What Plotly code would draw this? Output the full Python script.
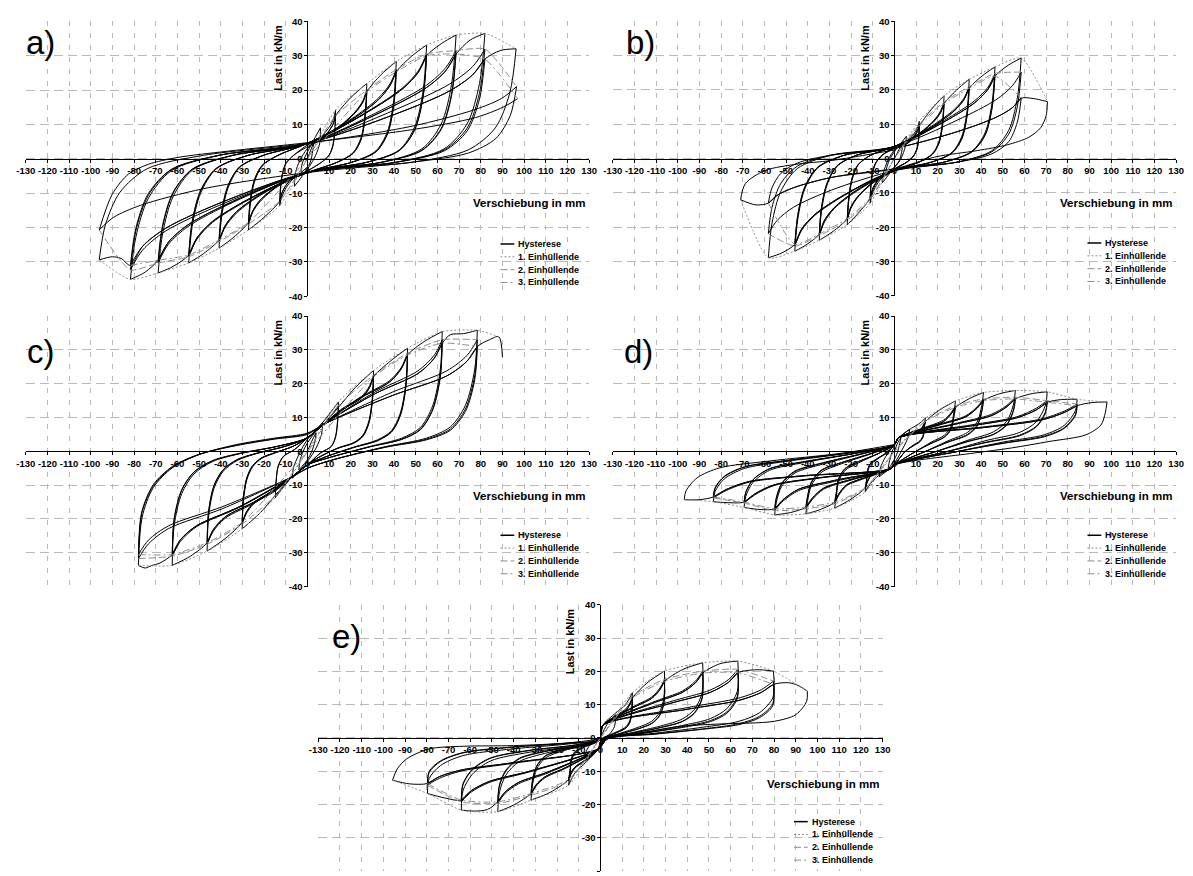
import plotly.graph_objects as go

# ---------------------------------------------------------------------------
# Test data: load (kN/m) versus displacement (mm) of five wall specimens.
# Each hysteresis list holds the half-cycles in test order; every half-cycle
# lists its (displacement, load) points and ends at the reversal peak.
# ---------------------------------------------------------------------------

X_TICKS = list(range(-130, 131, 10))
X_TICK_LABELS = [str(v) for v in X_TICKS]
Y_TICKS = list(range(-40, 41, 10))
Y_TICK_LABELS = [str(v) for v in Y_TICKS]

LEGEND_LABELS = ["Hysterese", "1. Einhüllende", "2. Einhüllende", "3. Einhüllende"]
PANEL_LABELS = ["a)", "b)", "c)", "d)", "e)"]
X_TITLE = "Verschiebung in mm"
Y_TITLE = "Last in kN/m"

# ----------------------------- specimen a ---------------------------------
A_HYST = [
    [(1.5, 2.5), (3, 5)],
    [(2.5, 2.5), (1, -1.5), (-3, -4)],
    [(-2.5, -1.5), (0, 2), (6, 9)],
    [(5.5, 4), (3, 0), (0, -3), (-6, -8)],
    [(-5.5, -4), (-3.5, -0.5), (0, 3), (6.5, 6.5), (10.4, 9.5), (12.1, 11.8), (13, 14.2)],
    [(12.6, 8.5), (11.7, 4), (10, 1.1), (6.5, -1), (0, -3.5), (-6.4, -5.7), (-10.2, -8.8), (-11.9, -11.2), (-12.8, -13.6)],
    [(-12.4, -8.8), (-11.5, -4.5), (-9.9, -1.4), (-6.4, 1), (0, 3.5), (6.5, 5.6), (10.4, 8.5), (12.1, 10.5), (13, 12.5)],
    [(12.6, 7.5), (11.7, 3.5), (10, 1), (6.5, -1), (0, -3.5), (-6.4, -5.2), (-10.2, -8), (-11.9, -10.1), (-12.8, -12.3)],
    [(-12.4, -8), (-11.5, -4.1), (-9.9, -1.2), (-6.4, 1), (0, 4), (6.5, 5.6), (10.4, 8.5), (12.1, 10.5), (13, 12.5), (20, 17.8), (27.4, 21.9)],
    [(26.6, 13.1), (24.7, 6.1), (21.1, 1.8), (13.7, -1), (0, -4), (-6.4, -5.2), (-10.2, -8), (-11.9, -10.1), (-12.8, -12.3), (-20, -17), (-27.2, -20.7)],
    [(-26.4, -13.5), (-24.5, -6.8), (-20.9, -2.1), (-13.6, 1), (0, 4.5), (13.7, 9), (21.9, 13.6), (25.5, 16.8), (27.4, 20)],
    [(26.6, 12), (24.7, 5.6), (21.1, 1.6), (13.7, -1), (0, -4), (-13.6, -8), (-21.8, -12.4), (-25.3, -15.6), (-27.2, -19)],
    [(-26.4, -12.4), (-24.5, -6.3), (-20.9, -1.9), (-13.6, 1), (0, 4.5), (13.7, 8.8), (21.9, 13.3), (25.5, 16.4), (27.4, 19.5)],
    [(26.6, 11.7), (24.7, 5.5), (21.1, 1.6), (13.7, -1), (0, -4), (-13.6, -7.8), (-21.8, -12), (-25.3, -15.2), (-27.2, -18.5)],
    [(-26.4, -12), (-24.5, -6.1), (-20.9, -1.9), (-13.6, 1), (0, 4.5), (13.7, 8.8), (21.9, 13.3), (25.5, 16.4), (27.4, 19.5), (34, 24.5), (41, 28.3)],
    [(39.8, 17), (36.9, 7.9), (31.6, 2.3), (20.5, -1), (0, -4), (-13.6, -7.8), (-21.8, -12), (-25.3, -15.2), (-27.2, -18.5), (-34, -22.8), (-40.8, -26)],
    [(-39.6, -16.9), (-36.7, -8.6), (-31.4, -2.6), (-20.4, 1), (0, 4.5), (20.5, 11.7), (32.8, 17.7), (38.1, 21.8), (41, 26)],
    [(39.8, 15.6), (36.9, 7.3), (31.6, 2.1), (20.5, -1), (0, -4), (-20.4, -10.1), (-32.6, -15.7), (-37.9, -19.8), (-40.8, -24.1)],
    [(-39.6, -15.7), (-36.7, -8), (-31.4, -2.4), (-20.4, 1), (0, 4.5), (20.5, 11.4), (32.8, 17.2), (38.1, 21.3), (41, 25.3)],
    [(39.8, 15.2), (36.9, 7.1), (31.6, 2), (20.5, -1), (0, -4), (-20.4, -9.9), (-32.6, -15.3), (-37.9, -19.4), (-40.8, -23.6)],
    [(-39.6, -15.3), (-36.7, -7.8), (-31.4, -2.4), (-20.4, 1), (0, 4.5), (20.5, 11.4), (32.8, 17.2), (38.1, 21.3), (41, 25.3), (48, 29.8), (55, 33.1)],
    [(53.4, 19.9), (49.5, 9.3), (42.4, 2.6), (27.5, -1), (0, -4), (-20.4, -9.9), (-32.6, -15.3), (-37.9, -19.4), (-40.8, -23.6), (-48, -27.6), (-54.8, -30.3)],
    [(-53.2, -19.7), (-49.3, -10), (-42.2, -3), (-27.4, 1), (0, 4.5), (27.5, 13.7), (44, 20.7), (51.2, 25.6), (55, 30.5)],
    [(53.4, 18.3), (49.5, 8.5), (42.4, 2.4), (27.5, -1), (0, -4), (-27.4, -12), (-43.8, -18.5), (-51, -23.4), (-54.8, -28.5)],
    [(-53.2, -18.5), (-49.3, -9.4), (-42.2, -2.9), (-27.4, 1), (0, 4.5), (27.5, 13.5), (44, 20.4), (51.2, 25.2), (55, 30)],
    [(53.4, 18), (49.5, 8.4), (42.4, 2.4), (27.5, -1), (0, -4), (-27.4, -11.8), (-43.8, -18.2), (-51, -23), (-54.8, -28)],
    [(-53.2, -18.2), (-49.3, -9.2), (-42.2, -2.8), (-27.4, 1), (0, 4.5), (27.5, 13.5), (44, 20.4), (51.2, 25.2), (55, 30), (62, 33.6), (68.6, 36)],
    [(66.5, 21.6), (61.7, 10.1), (52.8, 2.9), (34.3, -1), (0, -4), (-27.4, -11.8), (-43.8, -18.2), (-51, -23), (-54.8, -28), (-62, -31.3), (-68.9, -33.2)],
    [(-66.8, -21.6), (-62, -11), (-53.1, -3.3), (-34.5, 1), (0, 4.5), (34.3, 14.2), (54.9, 21.4), (63.8, 26.5), (68.6, 31.5)],
    [(66.5, 18.9), (61.7, 8.8), (52.8, 2.5), (34.3, -1), (0, -4), (-34.5, -12.7), (-55.1, -19.7), (-64.1, -24.8), (-68.9, -30.3)],
    [(-66.8, -19.7), (-62, -10), (-53.1, -3), (-34.5, 1), (0, 4.5), (34.3, 13.7), (54.9, 20.7), (63.8, 25.6), (68.6, 30.5)],
    [(66.5, 18.3), (61.7, 8.5), (52.8, 2.4), (34.3, -1), (0, -4), (-34.5, -12.4), (-55.1, -19.2), (-64.1, -24.2), (-68.9, -29.5)],
    [(-66.8, -19.2), (-62, -9.7), (-53.1, -3), (-34.5, 1), (0, 4.5), (34.3, 13.7), (54.9, 20.7), (63.8, 25.6), (68.6, 30.5), (75, 34.5), (81.9, 36.5)],
    [(79.4, 21.9), (73.7, 10.2), (63.1, 2.9), (41, -1), (0, -4), (-34.5, -12.4), (-55.1, -19.2), (-64.1, -24.2), (-68.9, -29.5), (-75, -33), (-81.7, -35.1)],
    [(-79.2, -22.8), (-73.5, -11.6), (-62.9, -3.5), (-40.9, 1), (0, 4.5), (41, 14.4), (65.5, 21.7), (76.2, 26.8), (81.9, 31.9)],
    [(79.4, 19.1), (73.7, 8.9), (63.1, 2.6), (41, -1), (0, -4), (-40.9, -13.6), (-65.4, -21), (-76, -26.5), (-81.7, -32.3)],
    [(-79.2, -21), (-73.5, -10.7), (-62.9, -3.2), (-40.9, 1), (0, 4.5), (41, 13.1), (65.5, 19.7), (76.2, 24.4), (81.9, 29)],
    [(79.4, 17.4), (73.7, 8.1), (63.1, 2.3), (41, -1), (0, -4), (-40.9, -13), (-65.4, -20.2), (-76, -25.4), (-81.7, -31)],
    [(-79.2, -20.2), (-73.5, -10.2), (-62.9, -3.1), (-40.9, 1), (0, 4.5), (41, 13.1), (65.5, 19.7), (76.2, 24.4), (81.9, 29), (89, 31.5), (96.3, 32)],
    [(93.4, 19.2), (86.7, 9), (74.2, 2.6), (48.2, -1), (0, -4), (-40.9, -13), (-65.4, -20.2), (-76, -25.4), (-81.7, -31), (-86, -29), (-90, -28.5), (-96.1, -29.4)],
    [(-93.2, -19.1), (-86.5, -9.7), (-74, -2.9), (-48, 1), (0, 4.5), (48.3, 9.5), (77.2, 14.3), (89.7, 17.6), (96.5, 21)],
    [(93.6, 12.6), (86.9, 5.9), (74.3, 1.7), (48.3, -1), (0, -4), (-48, -8.7), (-76.9, -13.5), (-89.4, -17), (-96.1, -20.7)],
    [(-90, -10.2), (-82.5, -4.4), (-73.4, -1.6), (-59.8, 0.4), (-37, 2.2), (0, 4.7), (48.5, 8.5), (77.6, 12), (90.2, 15), (97, 17.5)],
]
A_ENV1 = [(-96.1, -29.4), (-81.7, -35.1), (-68.9, -33.2), (-54.8, -30.3), (-40.8, -26), (-27.2, -20.7),
          (-12.8, -13.6), (0, 0), (13, 14.2), (27.4, 21.9), (41, 28.3), (55, 33.1), (68.6, 36),
          (81.9, 36.5), (96.3, 32)]
A_ENV2 = [(-96.1, -20.7), (-81.7, -32.3), (-68.9, -30.3), (-54.8, -28.5), (-40.8, -24.1), (-27.2, -19),
          (-12.8, -12.3), (0, 0), (13, 12.5), (27.4, 20), (41, 26), (55, 30.5), (68.6, 31.5),
          (81.9, 31.9), (96.5, 21)]
A_ENV3 = [(-81.7, -31), (-68.9, -29.5), (-54.8, -28), (-40.8, -23.6), (-27.2, -18.5), (0, 0),
          (27.4, 19.5), (41, 25.3), (55, 30), (68.6, 30.5), (81.9, 29), (97, 17.5)]

# ----------------------------- specimen b ---------------------------------
B_HYST = [
    [(2, 2.5), (4, 5)],
    [(3.5, 2.5), (2, -1), (0, -2.5), (-4, -5)],
    [(-3.5, -2.5), (-2, 0), (0, 2), (5.5, 6.5)],
    [(5, 3.5), (3, 0), (0, -2.5), (-5.5, -7)],
    [(-5, -4), (-3, -0.5), (0, 2.5), (5.75, 4.9), (9.2, 7.4), (10.7, 9.2), (11.5, 10.9)],
    [(11.2, 6.5), (10.4, 3.1), (8.9, 0.9), (5.8, -1), (0, -3), (-5.6, -5.5), (-9, -8.5), (-10.4, -10.7), (-11.2, -13)],
    [(-10.9, -8.5), (-10.1, -4.3), (-8.6, -1.3), (-5.6, 1), (0, 3), (5.75, 4.5), (9.2, 6.8), (10.7, 8.4), (11.5, 10)],
    [(11.2, 6), (10.4, 2.8), (8.9, 0.8), (5.8, -1), (0, -3), (-5.6, -5), (-9, -7.8), (-10.4, -9.8), (-11.2, -12)],
    [(-10.9, -7.8), (-10.1, -4), (-8.6, -1.2), (-5.6, 1), (0, 3), (5.75, 4.3), (9.2, 6.5), (10.7, 8), (11.5, 9.5)],
    [(11.2, 5.7), (10.4, 2.7), (8.9, 0.8), (5.8, -1), (0, -3), (-5.6, -4.8), (-9, -7.5), (-10.4, -9.4), (-11.2, -11.5)],
    [(-10.9, -7.5), (-10.1, -3.8), (-8.6, -1.2), (-5.6, 1), (0, 3.5), (5.75, 4.3), (9.2, 6.5), (10.7, 8), (11.5, 9.5), (17, 14.3), (22.9, 18.3)],
    [(22.2, 11), (20.6, 5.1), (17.6, 1.5), (11.5, -1), (0, -3.5), (-5.6, -4.8), (-9, -7.5), (-10.4, -9.4), (-11.2, -11.5), (-16.5, -15.8), (-21.8, -19.3)],
    [(-21.1, -12.5), (-19.6, -6.4), (-16.8, -1.9), (-10.9, 1), (0, 3.5), (11.5, 7.4), (18.3, 11.2), (21.3, 13.9), (22.9, 16.5)],
    [(22.2, 9.9), (20.6, 4.6), (17.6, 1.3), (11.5, -1), (0, -3.5), (-10.9, -7.6), (-17.4, -11.7), (-20.3, -14.8), (-21.8, -18)],
    [(-21.1, -11.7), (-19.6, -5.9), (-16.8, -1.8), (-10.9, 1), (0, 3.5), (11.5, 7.2), (18.3, 10.9), (21.3, 13.4), (22.9, 16)],
    [(22.2, 9.6), (20.6, 4.5), (17.6, 1.3), (11.5, -1), (0, -3.5), (-10.9, -7.4), (-17.4, -11.4), (-20.3, -14.4), (-21.8, -17.5)],
    [(-21.1, -11.4), (-19.6, -5.8), (-16.8, -1.8), (-10.9, 1), (0, 3.5), (11.5, 7.2), (18.3, 10.9), (21.3, 13.4), (22.9, 16), (28.7, 20), (34.5, 23.1)],
    [(33.5, 13.9), (31.1, 6.5), (26.6, 1.8), (17.3, -1), (0, -3.5), (-10.9, -7.4), (-17.4, -11.4), (-20.3, -14.4), (-21.8, -17.5), (-28.3, -21.2), (-34.7, -23.8)],
    [(-33.7, -15.5), (-31.2, -7.9), (-26.7, -2.4), (-17.4, 1), (0, 3.5), (17.3, 9.5), (27.6, 14.3), (32.1, 17.6), (34.5, 21)],
    [(33.5, 12.6), (31.1, 5.9), (26.6, 1.7), (17.3, -1), (0, -3.5), (-17.4, -9.5), (-27.8, -14.6), (-32.3, -18.5), (-34.7, -22.5)],
    [(-33.7, -14.6), (-31.2, -7.4), (-26.7, -2.3), (-17.4, 1), (0, 3.5), (17.3, 9.2), (27.6, 13.9), (32.1, 17.2), (34.5, 20.5)],
    [(33.5, 12.3), (31.1, 5.7), (26.6, 1.6), (17.3, -1), (0, -3.5), (-17.4, -9.2), (-27.8, -14.3), (-32.3, -18), (-34.7, -22)],
    [(-33.7, -14.3), (-31.2, -7.3), (-26.7, -2.2), (-17.4, 1), (0, 3.5), (17.3, 9.2), (27.6, 13.9), (32.1, 17.2), (34.5, 20.5), (40.5, 24.1), (46.4, 26.7)],
    [(45, 16), (41.8, 7.5), (35.7, 2.1), (23.2, -1), (0, -3.5), (-17.4, -9.2), (-27.8, -14.3), (-32.3, -18), (-34.7, -22), (-40.4, -25), (-46, -27)],
    [(-44.6, -17.6), (-41.4, -8.9), (-35.4, -2.7), (-23, 1), (0, 3.5), (23.2, 11.2), (37.1, 16.9), (43.2, 20.8), (46.4, 24.8)],
    [(45, 14.9), (41.8, 6.9), (35.7, 2), (23.2, -1), (0, -3.5), (-23, -10.7), (-36.8, -16.6), (-42.8, -20.9), (-46, -25.5)],
    [(-44.6, -16.6), (-41.4, -8.4), (-35.4, -2.6), (-23, 1), (0, 3.5), (23.2, 10.8), (37.1, 16.3), (43.2, 20.2), (46.4, 24)],
    [(45, 14.4), (41.8, 6.7), (35.7, 1.9), (23.2, -1), (0, -3.5), (-23, -10.5), (-36.8, -16.3), (-42.8, -20.5), (-46, -25)],
    [(-44.6, -16.3), (-41.4, -8.3), (-35.4, -2.5), (-23, 1), (0, 3.5), (23.2, 10.8), (37.1, 16.3), (43.2, 20.2), (46.4, 24), (52.5, 27.2), (58.5, 29.3)],
    [(56.7, 17.6), (52.7, 8.2), (45, 2.3), (29.3, -1), (0, -3.5), (-23, -10.5), (-36.8, -16.3), (-42.8, -20.5), (-46, -25), (-52, -27.5), (-58.2, -28.9)],
    [(-56.5, -18.8), (-52.4, -9.5), (-44.8, -2.9), (-29.1, 1), (0, 3.5), (29.3, 11.3), (46.8, 17.1), (54.4, 21.2), (58.5, 25.2)],
    [(56.7, 15.1), (52.7, 7.1), (45, 2), (29.3, -1), (0, -3.5), (-29.1, -9.2), (-46.6, -14.2), (-54.1, -18), (-58.2, -21.9)],
    [(-56.5, -14.2), (-52.4, -7.2), (-44.8, -2.2), (-29.1, 1), (0, 3), (29.3, 7.9), (46.8, 12), (54.4, 14.8), (58.5, 17.6)],
    [(56.7, 10.6), (52.7, 4.9), (45, 1.4), (29.3, -1), (0, -3), (-29.1, -5.5), (-46.6, -8.5), (-54.1, -10.7), (-58.2, -13)],
    [(-56.5, -8.5), (-52.4, -4.3), (-44.8, -1.3), (-29.1, 1), (0, 3), (29.3, 7.9), (46.8, 12), (54.4, 14.8), (58.5, 17.6), (64, 17.5), (70.6, 16.6)],
    [(70, 12.5), (67.5, 9), (62, 6.2), (52, 4), (38, 2.3), (19, 0.5), (0, -3), (-29.1, -5.5), (-46.6, -8.5), (-54.1, -10.7), (-58.2, -13), (-64, -13.5), (-71, -12)],
    [(-68.8, -7.3), (-59.7, -3.5), (-44.5, -1.6), (-29.4, -0.6), (0, 2.5)],
]
B_ENV1 = [(-71, -12), (-58.2, -28.9), (-46, -27), (-34.7, -23.8), (-21.8, -19.3), (-11.2, -13), (0, 0),
          (11.5, 10.9), (22.9, 18.3), (34.5, 23.1), (46.4, 26.7), (58.5, 29.3), (70.6, 16.6)]
B_ENV2 = [(-58.2, -21.9), (-46, -25.5), (-34.7, -22.5), (-21.8, -18), (-11.2, -12), (0, 0),
          (11.5, 10), (22.9, 16.5), (34.5, 21), (46.4, 24.8), (58.5, 25.2)]
B_ENV3 = [(-58.2, -13), (-46, -25), (-34.7, -22), (-21.8, -17.5), (-11.2, -11.5), (0, 0),
          (11.5, 9.5), (22.9, 16), (34.5, 20.5), (46.4, 24), (58.5, 17.6)]

# ----------------------------- specimen c ---------------------------------
C_HYST = [
    [(2, 3), (4, 5.5)],
    [(3.5, 3), (2, 0), (0, -2.5), (-4, -5.5)],
    [(-3.5, -3), (-2, 0), (0, 2.5), (7, 8.5)],
    [(6.5, 5), (4, 1), (0, -3), (-7, -8)],
    [(-6.5, -5), (-4, -1), (0, 3.5), (7, 8.5), (14.3, 14.6)],
    [(14, 10), (13, 4.5), (11, 1.5), (6, -0.5), (0, -4), (-7, -7.5), (-14.8, -13.7)],
    [(-14.5, -9.5), (-13.5, -4.5), (-11, -1.5), (-6, 0.5), (0, 4), (7.5, 8), (14.3, 13.5)],
    [(14, 9.2), (13, 4.2), (11, 1.4), (6, -0.5), (0, -4), (-7, -7.5), (-14.8, -13)],
    [(-14.5, -9), (-13.5, -4.3), (-11, -1.4), (-6, 0.5), (0, 4), (7.5, 8), (14.3, 13), (22, 18.8), (30.5, 23.9)],
    [(30, 16.3), (28.4, 9.1), (25.6, 4.8), (21.4, 2.6), (14, 1), (4.6, -2), (0, -4), (-7, -7.5), (-14.8, -13), (-22, -18.3), (-30.1, -22.9)],
    [(-29.6, -14.9), (-28, -8.5), (-25.3, -4.6), (-21.1, -2.1), (-15, -0.5), (-6.6, 1.5), (0, 4), (7.5, 8), (15.3, 12.3), (25, 16.2), (28.7, 19.4), (30.5, 22.5)],
    [(30, 15.3), (28.4, 8.6), (25.6, 4.5), (21.4, 2.5), (14, 0.9), (4.6, -2), (0, -4), (-7, -7.5), (-15, -11.8), (-24.7, -15.5), (-28.3, -18.5), (-30.1, -21.5)],
    [(-29.6, -14), (-28, -8), (-25.3, -4.3), (-21.1, -1.9), (-15, -0.4), (-6.6, 1.5), (0, 4), (7.5, 8), (15.3, 12), (25, 15.8), (28.7, 18.9), (30.5, 22)],
    [(30, 15), (28.4, 8.4), (25.6, 4.4), (21.4, 2.4), (14, 0.9), (4.6, -2), (0, -4), (-7, -7.5), (-15, -11.5), (-24.7, -15.1), (-28.3, -18.1), (-30.1, -21)],
    [(-29.6, -13.7), (-28, -7.8), (-25.3, -4.2), (-21.1, -1.9), (-15, -0.4), (-6.6, 1.5), (0, 4), (7.5, 8), (15.3, 12), (25, 15.8), (28.7, 18.9), (30.5, 22), (38.5, 26.8), (46.2, 30.5)],
    [(45.5, 20.7), (43, 11.6), (38.8, 6.1), (32.3, 3.4), (21.3, 1.2), (6.9, -2), (0, -4), (-7, -7.5), (-15, -11.5), (-24.7, -15.1), (-28.3, -18.1), (-30.1, -21), (-38, -25.8), (-46.3, -29.5)],
    [(-45.6, -19.2), (-43.1, -10.9), (-38.9, -5.9), (-32.4, -2.7), (-23.2, -0.6), (-10.2, 1.5), (0, 4), (7.5, 8), (23.1, 15.5), (37.9, 20.9), (43.4, 24.9), (46.2, 29)],
    [(45.5, 19.7), (43, 11), (38.8, 5.8), (32.3, 3.2), (21.3, 1.2), (6.9, -2), (0, -4), (-7, -7.5), (-23.2, -14.8), (-38, -19.8), (-43.5, -23.7), (-46.3, -27.5)],
    [(-45.6, -17.9), (-43.1, -10.2), (-38.9, -5.5), (-32.4, -2.5), (-23.2, -0.6), (-10.2, 1.5), (0, 4), (7.5, 8), (23.1, 15.3), (37.9, 20.5), (43.4, 24.5), (46.2, 28.5)],
    [(45.5, 19.4), (43, 10.8), (38.8, 5.7), (32.3, 3.1), (21.3, 1.1), (6.9, -2), (0, -4), (-7, -7.5), (-23.2, -14.5), (-38, -19.4), (-43.5, -23.2), (-46.3, -27)],
    [(-45.6, -17.6), (-43.1, -10), (-38.9, -5.4), (-32.4, -2.4), (-23.2, -0.5), (-10.2, 1.5), (0, 4), (7.5, 8), (23.1, 15.3), (37.9, 20.5), (43.4, 24.5), (46.2, 28.5), (54, 32.5), (62.2, 35.4)],
    [(61.3, 24.1), (57.8, 13.5), (52.2, 7.1), (43.5, 3.9), (28.6, 1.4), (9.3, -2), (0, -4), (-7, -7.5), (-23.2, -14.5), (-38, -19.4), (-43.5, -23.2), (-46.3, -27), (-54, -31), (-62.4, -33.7)],
    [(-61.5, -21.9), (-58, -12.5), (-52.4, -6.7), (-43.7, -3), (-31.2, -0.7), (-13.7, 1.5), (0, 4), (7.5, 8), (31.1, 17.5), (51, 23.8), (58.5, 28.4), (62.2, 33)],
    [(61.3, 22.4), (57.8, 12.5), (52.2, 6.6), (43.5, 3.6), (28.6, 1.3), (9.3, -2), (0, -4), (-7, -7.5), (-31.2, -16.5), (-51.2, -22.3), (-58.7, -26.7), (-62.4, -31)],
    [(-61.5, -20.2), (-58, -11.5), (-52.4, -6.2), (-43.7, -2.8), (-31.2, -0.6), (-13.7, 1.5), (0, 4), (7.5, 8), (31.1, 17), (51, 23), (58.5, 27.5), (62.2, 32)],
    [(61.3, 21.8), (57.8, 12.2), (52.2, 6.4), (43.5, 3.5), (28.6, 1.3), (9.3, -2), (0, -4), (-7, -7.5), (-31.2, -16.3), (-51.2, -22), (-58.7, -26.2), (-62.4, -30.5)],
    [(-61.5, -19.8), (-58, -11.3), (-52.4, -6.1), (-43.7, -2.7), (-31.2, -0.6), (-13.7, 1.5), (0, 4), (7.5, 8), (31.1, 17), (51, 23), (58.5, 27.5), (62.2, 32), (66, 34.5), (72, 34.8), (78.4, 35.8)],
    [(77.2, 24.3), (72.9, 13.6), (65.9, 7.2), (54.9, 3.9), (36.1, 1.4), (11.8, -2.5), (0, -5), (-7, -7.5), (-31.2, -16.3), (-51.2, -22), (-58.7, -26.2), (-62.4, -30.5), (-68, -33), (-72, -33.8), (-75, -34.5), (-78, -33.7)],
    [(-76.3, -19.5), (-71.1, -10.7), (-62.4, -4.9), (-50.2, -1), (-32.8, 2), (-15.3, 3.9), (0, 5.4), (7.5, 8), (39.2, 17.5), (64.3, 23.8), (73.7, 28.4), (78.4, 33)],
    [(77.2, 22.4), (72.9, 12.5), (65.9, 6.6), (54.9, 3.6), (36.1, 1.3), (11.8, -2.5), (0, -5), (-7, -7.5), (-39, -16.9), (-64, -22.8), (-73.3, -27.3), (-78, -31.7)],
    [(-76.5, -18.5), (-71.1, -10.2), (-62.4, -4.7), (-50.2, -1), (-32.8, 1.8), (-15.3, 3.7), (0, 5.2), (7.5, 8), (39.2, 16.5), (64.3, 22.3), (73.7, 26.7), (78.4, 31)],
    [(77.2, 21.1), (72.9, 11.8), (65.9, 6.2), (54.9, 3.4), (36.1, 1.2), (11.8, -2.5), (0, -5), (-7, -7.5), (-39, -16.3), (-64, -22), (-73.3, -26.2), (-78, -30.5)],
    [(-76.5, -18), (-71.1, -9.8), (-62.4, -4.5), (-50.2, -0.9), (-32.8, 1.7), (-15.3, 3.6), (0, 5), (7.5, 8), (39.2, 16.5), (64.3, 22.3), (73.7, 26.7), (78.4, 31), (84, 33), (88.3, 33.9), (90, 27.8)],
]
C_ENV1 = [(-78, -33.7), (-62.4, -33.7), (-46.3, -29.5), (-30.1, -22.9), (-14.8, -13.7), (0, 0),
          (14.3, 14.6), (30.5, 23.9), (46.2, 30.5), (62.2, 35.4), (78.4, 35.8), (88.3, 33.9)]
C_ENV2 = [(-78, -31.7), (-62.4, -31), (-46.3, -27.5), (-30.1, -21.5), (-14.8, -13), (0, 0),
          (14.3, 13.5), (30.5, 22.5), (46.2, 29), (62.2, 33), (78.4, 33)]
C_ENV3 = [(-78, -30.5), (-62.4, -30.5), (-46.3, -27), (-30.1, -21), (0, 0),
          (30.5, 22), (46.2, 28.5), (62.2, 32), (78.4, 31)]

# ----------------------------- specimen d ---------------------------------
D_HYST = [
    [(1.5, 2.5), (3, 4)],
    [(2.5, 2.5), (1, -1), (-2, -4.5), (-3, -5.5)],
    [(-2.5, -3.5), (-1, 0), (1, 3), (2, 4), (7, 6.5)],
    [(6.5, 4.5), (4, 1), (0, -3.5), (-2, -5), (-7, -7.5)],
    [(-6.5, -5), (-4, -1.5), (0, 2), (2, 4), (7, 6.5), (11, 8), (14.3, 9.8)],
    [(13.7, 7.5), (13.3, 4.9), (11.7, 3.1), (8.6, 1.8), (5, 0), (0, -4), (-2, -5.2), (-7, -7), (-11, -9.5), (-13.5, -12)],
    [(-12.9, -9.6), (-12.5, -6.6), (-11.2, -4.1), (-8.1, -2.4), (-3.4, -0.4), (0, 2), (2, 4), (7.2, 5), (11.4, 6.1), (13.3, 7.7), (14.3, 9)],
    [(13.7, 7), (13.3, 4.5), (11.7, 2.9), (8.6, 1.6), (5, 0), (0, -4), (-2, -5.2), (-6.8, -6.1), (-10.8, -7.3), (-12.6, -9.2), (-13.5, -11)],
    [(-12.9, -8.8), (-12.5, -6), (-11.2, -3.7), (-8.1, -2.2), (-3.4, -0.3), (0, 2), (2, 4), (7.2, 5), (11.4, 6), (13.3, 7.5), (14.3, 8.8)],
    [(13.7, 6.9), (13.3, 4.4), (11.7, 2.8), (8.6, 1.6), (5, 0), (0, -4), (-2, -5.2), (-6.8, -6), (-10.8, -7.1), (-12.6, -9.1), (-13.5, -10.8)],
    [(-12.9, -8.6), (-12.5, -5.9), (-11.2, -3.7), (-8.1, -2.2), (-3.4, -0.3), (0, 2), (2, 4), (7.2, 5), (11.4, 6), (13.3, 7.5), (14.3, 8.8), (21, 12.3), (28.2, 14.9)],
    [(27.4, 11.6), (26.2, 7.5), (23.1, 4.8), (16.9, 2.7), (9.9, 0), (0, -4), (-2, -5.2), (-6.8, -6), (-10.8, -7.1), (-12.6, -9.1), (-13.5, -10.8), (-20.5, -14.3), (-27.6, -16.8)],
    [(-26.8, -13.4), (-25.9, -9.2), (-22.9, -5.7), (-16.6, -3.4), (-6.9, -0.5), (0, 2), (2, 4), (14.1, 7.1), (22.6, 9.2), (26.2, 11.5), (28.2, 13.5)],
    [(27.4, 10.5), (26.2, 6.8), (23.1, 4.3), (16.9, 2.4), (9.9, 0), (0, -4), (-2, -5.2), (-13.8, -8), (-22.1, -10.2), (-25.7, -13), (-27.6, -15.5)],
    [(-26.8, -12.4), (-25.9, -8.5), (-22.9, -5.3), (-16.6, -3.1), (-6.9, -0.5), (0, 2), (2, 4), (14.1, 6.9), (22.6, 8.8), (26.2, 11.1), (28.2, 13)],
    [(27.4, 10.1), (26.2, 6.5), (23.1, 4.2), (16.9, 2.3), (9.9, 0), (0, -4), (-2, -5.2), (-13.8, -7.8), (-22.1, -9.9), (-25.7, -12.6), (-27.6, -15)],
    [(-26.8, -12), (-25.9, -8.3), (-22.9, -5.1), (-16.6, -3), (-6.9, -0.5), (0, 2), (2, 4), (14.1, 6.9), (22.6, 8.8), (26.2, 11.1), (28.2, 13), (34.6, 15.6), (41.1, 17.4)],
    [(40.3, 13.6), (38.2, 8.7), (33.7, 5.6), (24.7, 3.1), (14.4, 0), (0, -4), (-2, -5.2), (-13.8, -7.8), (-22.1, -9.9), (-25.7, -12.6), (-27.6, -15), (-34.2, -17.2), (-40.9, -18.5)],
    [(-40.1, -14.8), (-38.4, -10.2), (-33.9, -6.3), (-24.5, -3.7), (-10.2, -0.6), (0, 2), (2, 4), (20.6, 8), (32.9, 10.5), (38.2, 13.2), (41.1, 15.5)],
    [(40.3, 12.1), (38.2, 7.8), (33.7, 5), (24.7, 2.8), (14.4, 0), (0, -4), (-2, -5.2), (-20.5, -8.6), (-32.7, -11.2), (-38, -14.3), (-40.9, -17)],
    [(-40.1, -13.6), (-38.4, -9.4), (-33.9, -5.8), (-24.5, -3.4), (-10.2, -0.5), (0, 2), (2, 4), (20.6, 7.8), (32.9, 10.2), (38.2, 12.8), (41.1, 15)],
    [(40.3, 11.7), (38.2, 7.5), (33.7, 4.8), (24.7, 2.7), (14.4, 0), (0, -4), (-2, -5.2), (-20.5, -8.4), (-32.7, -10.9), (-38, -13.9), (-40.9, -16.5)],
    [(-40.1, -13.2), (-38.4, -9.1), (-33.9, -5.6), (-24.5, -3.3), (-10.2, -0.5), (0, 2), (2, 4), (20.6, 7.8), (32.9, 10.2), (38.2, 12.8), (41.1, 15), (48.4, 17), (55.8, 18)],
    [(55, 14), (51.9, 9), (45.8, 5.8), (33.5, 3.2), (19.5, 0), (0, -4), (-2, -5.2), (-20.5, -8.4), (-32.7, -10.9), (-38, -13.9), (-40.9, -16.5), (-48, -18.1), (-55.3, -18.8)],
    [(-54.5, -15), (-52, -10.3), (-45.9, -6.4), (-33.2, -3.8), (-13.8, -0.6), (0, 2), (2, 4), (27.9, 8.2), (44.6, 10.9), (51.9, 13.6), (55.8, 16)],
    [(55, 12.5), (51.9, 8), (45.8, 5.1), (33.5, 2.9), (19.5, 0), (0, -4), (-2, -5.2), (-27.7, -8.9), (-44.2, -11.6), (-51.4, -14.7), (-55.3, -17.5)],
    [(-54.5, -14), (-52, -9.6), (-45.9, -6), (-33.2, -3.5), (-13.8, -0.5), (0, 2), (2, 4), (27.9, 8), (44.6, 10.5), (51.9, 13.2), (55.8, 15.5)],
    [(55, 12.1), (51.9, 7.8), (45.8, 5), (33.5, 2.8), (19.5, 0), (0, -4), (-2, -5.2), (-27.7, -8.6), (-44.2, -11.2), (-51.4, -14.3), (-55.3, -17)],
    [(-54.5, -13.6), (-52, -9.4), (-45.9, -5.8), (-33.2, -3.4), (-13.8, -0.5), (0, 2), (2, 4), (27.9, 8), (44.6, 10.5), (51.9, 13.2), (55.8, 15.5), (63, 17), (70.5, 17.6)],
    [(69.7, 13.7), (65.6, 8.8), (57.8, 5.6), (42.3, 3.2), (24.7, 0), (0, -4), (-2, -5.2), (-27.7, -8.6), (-44.2, -11.2), (-51.4, -14.3), (-55.3, -17), (-62, -17.2), (-69.4, -16.6)],
    [(-68.6, -13.3), (-65.2, -9.1), (-57.6, -5.6), (-41.6, -3.3), (-17.4, -0.5), (0, 2), (2, 4), (35.3, 7.8), (56.4, 10.2), (65.6, 12.8), (70.5, 15)],
    [(69.7, 11.7), (65.6, 7.5), (57.8, 4.8), (42.3, 2.7), (24.7, 0), (0, -4), (-2, -5.2), (-34.7, -7.9), (-55.5, -10.1), (-64.5, -12.9), (-69.4, -15.3)],
    [(-68.6, -12.2), (-65.2, -8.4), (-57.6, -5.2), (-41.6, -3.1), (-17.4, -0.5), (0, 2), (2, 4), (35.3, 7.5), (56.4, 9.9), (65.6, 12.3), (70.5, 14.5)],
    [(69.7, 11.3), (65.6, 7.3), (57.8, 4.6), (42.3, 2.6), (24.7, 0), (0, -4), (-2, -5.2), (-34.7, -7.8), (-55.5, -9.9), (-64.5, -12.6), (-69.4, -15)],
    [(-68.6, -12), (-65.2, -8.3), (-57.6, -5.1), (-41.6, -3), (-17.4, -0.5), (0, 2), (2, 4), (35.3, 7.5), (56.4, 9.9), (65.6, 12.3), (70.5, 14.5), (77, 15.3), (84.3, 15.4)],
    [(83.5, 12), (78.4, 7.7), (69.1, 4.9), (50.6, 2.8), (29.5, 0), (0, -4), (-2, -5.2), (-34.7, -7.8), (-55.5, -9.9), (-64.5, -12.6), (-69.4, -15), (-76, -15.2), (-83.6, -14.9)],
    [(-82.8, -11.9), (-78.6, -8.2), (-69.4, -5.1), (-50.2, -3), (-20.9, -0.5), (0, 2), (2, 4), (42.2, 7.3), (67.4, 9.5), (78.4, 11.9), (84.3, 14)],
    [(83.5, 10.9), (78.4, 7), (69.1, 4.5), (50.6, 2.5), (29.5, 0), (0, -4), (-2, -5.2), (-41.8, -7.3), (-66.9, -9.1), (-77.7, -11.6), (-83.6, -13.8)],
    [(-82.8, -11), (-78.6, -7.6), (-69.4, -4.7), (-50.2, -2.8), (-20.9, -0.4), (0, 2), (2, 4), (42.2, 7.1), (67.4, 9.2), (78.4, 11.5), (84.3, 13.5)],
    [(83.5, 10.5), (78.4, 6.8), (69.1, 4.3), (50.6, 2.4), (29.5, 0), (0, -4), (-2, -5.2), (-41.8, -7.2), (-66.9, -8.9), (-77.7, -11.3), (-83.6, -13.5)],
    [(-82.8, -10.8), (-78.6, -7.4), (-69.4, -4.6), (-50.2, -2.7), (-20.9, -0.4), (0, 2), (2, 4), (42.2, 7.1), (67.4, 9.2), (78.4, 11.5), (84.3, 13.5), (91, 14.4), (98.1, 14.6)],
    [(97.3, 11.4), (95.3, 7.8), (88.4, 4.9), (71.3, 2.9), (54, 1), (36.8, -0.5), (0, -4), (-2, -5.2), (-41.8, -7.2), (-66.9, -8.9), (-77.7, -11.3), (-83.6, -13.5), (-90, -14.3), (-97, -14.3)],
    [(-96.2, -11.7), (-91, -7.8), (-80.7, -4.9), (-58.2, -2.9), (-23.7, -0.5), (0, 2)],
]
D_ENV1 = [(-97, -14.3), (-83.6, -14.9), (-69.4, -16.6), (-55.3, -18.8), (-40.9, -18.5), (-27.6, -16.8),
          (-13.5, -12), (0, 0), (14.3, 9.8), (28.2, 14.9), (41.1, 17.4), (55.8, 18), (70.5, 17.6),
          (84.3, 15.4), (98.1, 14.6)]
D_ENV2 = [(-83.6, -13.8), (-69.4, -15.3), (-55.3, -17.5), (-40.9, -17), (-27.6, -15.5), (-13.5, -11),
          (0, 0), (14.3, 9), (28.2, 13.5), (41.1, 15.5), (55.8, 16), (70.5, 15), (84.3, 14)]
D_ENV3 = [(-83.6, -13.5), (-69.4, -15), (-55.3, -17), (-40.9, -16.5), (-27.6, -15), (-13.5, -10.8),
          (0, 0), (14.3, 8.8), (28.2, 13), (41.1, 15), (55.8, 15.5), (70.5, 14.5), (84.3, 13.5)]

# ----------------------------- specimen e ---------------------------------
E_HYST = [
    [(3, 4), (7, 7)],
    [(6.5, 3.5), (4, 1), (0, -1), (-1, -3.3), (-7, -7)],
    [(-6.5, -4), (-4, -1.5), (0, -0.3), (1, 3.7), (7, 7.5), (11.5, 10), (14.7, 13.6)],
    [(14.4, 8.2), (13.5, 5.2), (11.8, 3.4), (8.7, 2.2), (4.6, 1), (0.6, -0.3), (-1, -3.3), (-7, -7.5), (-11.5, -10.3), (-14.7, -14.2)],
    [(-13.9, -10.4), (-13.5, -7.1), (-11.6, -4.5), (-7.5, -2.8), (-2.6, -1.6), (0, -0.3), (1, 3.7), (7.4, 6.8), (11.8, 8.8), (13.7, 10.6), (14.7, 12.5)],
    [(14.4, 7.5), (13.5, 4.8), (11.8, 3.1), (8.7, 2), (4.6, 0.9), (0.6, -0.3), (-1, -3.3), (-7.4, -7), (-11.8, -9.1), (-13.7, -11.1), (-14.7, -13)],
    [(-13.9, -9.5), (-13.5, -6.5), (-11.6, -4.2), (-7.5, -2.6), (-2.6, -1.4), (0, -0.3), (1, 3.7), (7.4, 6.5), (11.8, 8.4), (13.7, 10.2), (14.7, 12)],
    [(14.4, 7.2), (13.5, 4.6), (11.8, 3), (8.7, 1.9), (4.6, 0.8), (0.6, -0.3), (-1, -3.3), (-7.4, -6.8), (-11.8, -8.8), (-13.7, -10.6), (-14.7, -12.5)],
    [(-13.9, -9.1), (-13.5, -6.3), (-11.6, -4), (-7.5, -2.5), (-2.6, -1.4), (0, -0.3), (1, 3.7), (7.4, 6.5), (11.8, 8.4), (13.7, 10.2), (14.7, 12), (22, 16.8), (29.5, 20.1)],
    [(29.2, 12.1), (27.1, 7.6), (23.6, 5), (17.4, 3.2), (9.1, 1.4), (1.2, -0.3), (-1, -3.3), (-7.4, -6.8), (-11.8, -8.8), (-13.7, -10.6), (-14.7, -12.5), (-23, -16.3), (-32, -18.7)],
    [(-31.2, -13.7), (-29.4, -9.4), (-25.3, -6), (-16.3, -3.7), (-5.8, -2.1), (0, -0.3), (1, 3.7), (14.8, 9.3), (23.6, 12.3), (27.4, 15), (29.5, 17.6)],
    [(29.2, 10.6), (27.1, 6.7), (23.6, 4.4), (17.4, 2.8), (9.1, 1.2), (1.2, -0.3), (-1, -3.3), (-16, -9.1), (-25.6, -12), (-29.8, -14.6), (-32, -17.2)],
    [(-31.2, -12.6), (-29.4, -8.6), (-25.3, -5.5), (-16.3, -3.4), (-5.8, -1.9), (0, -0.3), (1, 3.7), (14.8, 9), (23.6, 11.9), (27.4, 14.5), (29.5, 17)],
    [(29.2, 10.2), (27.1, 6.5), (23.6, 4.3), (17.4, 2.7), (9.1, 1.2), (1.2, -0.3), (-1, -3.3), (-16, -8.9), (-25.6, -11.7), (-29.8, -14.2), (-32, -16.7)],
    [(-31.2, -12.2), (-29.4, -8.4), (-25.3, -5.3), (-16.3, -3.3), (-5.8, -1.8), (0, -0.3), (1, 3.7), (14.8, 9), (23.6, 11.9), (27.4, 14.5), (29.5, 17), (38, 20.6), (47.1, 22.6)],
    [(46.8, 13.6), (43.3, 8.6), (37.7, 5.7), (27.8, 3.6), (14.6, 1.6), (1.9, -0.3), (-1, -3.3), (-16, -8.9), (-25.6, -11.7), (-29.8, -14.2), (-32, -16.7), (-39.5, -20), (-47.3, -22.2)],
    [(-46.5, -16.2), (-43.5, -11.1), (-37.4, -7.1), (-24.1, -4.4), (-8.5, -2.4), (0, -0.3), (1, 3.7), (23.6, 10.6), (37.7, 14.1), (43.8, 17.1), (47.1, 20.1)],
    [(46.8, 12.1), (43.3, 7.6), (37.7, 5), (27.8, 3.2), (14.6, 1.4), (1.9, -0.3), (-1, -3.3), (-23.7, -10.4), (-37.8, -13.8), (-44, -16.7), (-47.3, -19.7)],
    [(-46.5, -14.4), (-43.5, -9.9), (-37.4, -6.3), (-24.1, -3.9), (-8.5, -2.2), (0, -0.3), (1, 3.7), (23.6, 10.3), (37.7, 13.7), (43.8, 16.6), (47.1, 19.5)],
    [(46.8, 11.7), (43.3, 7.4), (37.7, 4.9), (27.8, 3.1), (14.6, 1.4), (1.9, -0.3), (-1, -3.3), (-23.7, -10.1), (-37.8, -13.4), (-44, -16.3), (-47.3, -19.2)],
    [(-46.5, -14), (-43.5, -9.6), (-37.4, -6.1), (-24.1, -3.8), (-8.5, -2.1), (0, -0.3), (1, 3.7), (23.6, 10.3), (37.7, 13.7), (43.8, 16.6), (47.1, 19.5), (55, 22.3), (63.3, 23.1)],
    [(63, 13.9), (58.2, 8.8), (50.6, 5.8), (37.3, 3.7), (19.6, 1.6), (2.5, -0.3), (-1, -3.3), (-23.7, -10.1), (-37.8, -13.4), (-44, -16.3), (-47.3, -19.2), (-52, -21.5), (-58, -22), (-64.1, -21.7)],
    [(-63.3, -15.8), (-59, -10.9), (-50.6, -6.9), (-32.7, -4.3), (-11.5, -2.4), (0, -0.3), (1, 3.7), (31.7, 10.8), (50.6, 14.4), (58.9, 17.5), (63.3, 20.6)],
    [(63, 12.4), (58.2, 7.8), (50.6, 5.2), (37.3, 3.3), (19.6, 1.4), (2.5, -0.3), (-1, -3.3), (-32.1, -10.1), (-51.3, -13.4), (-59.6, -16.3), (-64.1, -19.2)],
    [(-63.3, -14), (-59, -9.6), (-50.6, -6.1), (-32.7, -3.8), (-11.5, -2.1), (0, -0.3), (1, 3.7), (31.7, 10.3), (50.6, 13.7), (58.9, 16.7), (63.3, 19.6)],
    [(63, 11.8), (58.2, 7.4), (50.6, 4.9), (37.3, 3.1), (19.6, 1.4), (2.5, -0.3), (-1, -3.3), (-32.1, -9.9), (-51.3, -13.1), (-59.6, -15.9), (-64.1, -18.7)],
    [(-63.3, -13.7), (-59, -9.4), (-50.6, -6), (-32.7, -3.7), (-11.5, -2.1), (0, -0.3), (1, 3.7), (31.7, 10.3), (50.6, 13.7), (58.9, 16.7), (63.3, 19.6), (72, 20.5), (79.7, 20.1)],
    [(79.4, 12.1), (73.3, 7.6), (63.8, 5), (47, 3.2), (24.7, 1.4), (3.2, -0.3), (-1, -3.3), (-32.1, -9.9), (-51.3, -13.1), (-59.6, -15.9), (-64.1, -18.7), (-72, -18), (-79.7, -16.7)],
    [(-78.9, -12.2), (-73.7, -8.3), (-63.3, -5.3), (-40.7, -3.3), (-14.7, -1.8), (0, -0.3), (1, 3.7), (39.9, 9.1), (63.8, 12), (74.1, 14.5), (79.7, 17.1)],
    [(79.4, 10.3), (73.3, 6.5), (63.8, 4.3), (47, 2.7), (24.7, 1.2), (3.2, -0.3), (-1, -3.3), (-39.9, -7.6), (-63.8, -9.9), (-74.1, -12.1), (-79.7, -14.2)],
    [(-78.9, -10.4), (-73.7, -7.1), (-63.3, -4.5), (-40.7, -2.8), (-14.7, -1.6), (0, -0.3), (1, 3.7), (39.9, 8.6), (63.8, 11.3), (74.1, 13.7), (79.7, 16.1)],
    [(79.4, 9.7), (73.3, 6.1), (63.8, 4), (47, 2.6), (24.7, 1.1), (3.2, -0.3), (-1, -3.3), (-39.9, -7.4), (-63.8, -9.6), (-74.1, -11.6), (-79.7, -13.7)],
    [(-78.9, -10), (-73.7, -6.9), (-63.3, -4.4), (-40.7, -2.7), (-14.7, -1.5), (0, -0.3), (1, 3.7), (39.9, 8.6), (63.8, 11.3), (74.1, 13.7), (79.7, 16.1), (86.7, 16.6), (91, 15.8), (95.3, 14.1)],
    [(95, 11), (90, 7), (80, 5), (55, 4.2), (37, 3.5), (20, 1.7), (2.6, -0.3), (-1, -3.3), (-39.9, -7.4), (-63.8, -9.6), (-74.1, -11.6), (-79.7, -13.7), (-88, -13.8), (-95.8, -12.7)],
    [(-93.6, -9.3), (-89.3, -6.3), (-78.9, -3.3), (-63, -2.5), (-40, -2.3), (-15, -1.5), (0, -0.3)],
]
E_ENV1 = [(-95.8, -12.7), (-79.7, -16.7), (-64.1, -21.7), (-47.3, -22.2), (-32, -18.7), (-14.7, -14.2),
          (0, 0), (14.7, 13.6), (29.5, 20.1), (47.1, 22.6), (63.3, 23.1), (79.7, 20.1), (95.3, 14.1)]
E_ENV2 = [(-79.7, -14.2), (-64.1, -19.2), (-47.3, -19.7), (-32, -17.2), (-14.7, -13), (0, 0),
          (14.7, 12.5), (29.5, 17.6), (47.1, 20.1), (63.3, 20.6), (79.7, 17.1)]
E_ENV3 = [(-79.7, -13.7), (-64.1, -18.7), (-47.3, -19.2), (-32, -16.7), (-14.7, -12.5), (0, 0),
          (14.7, 12), (29.5, 17), (47.1, 19.5), (63.3, 19.6), (79.7, 16.1)]

# ---------------------------------------------------------------------------
# Page layout (pixels on a 1193 x 876 page)
# ---------------------------------------------------------------------------
W, H = 1193, 876
PANEL_BOX = [  # left, top, right, bottom of each plot area
    (16, 15.5, 588, 294),
    (612, 15.5, 1184, 293.5),
    (16, 314, 588, 588),
    (612, 314, 1184, 588),
    (313, 606.5, 886, 876),
]
LABEL_POS = [(14, 37), (623, 37), (15, 350), (621, 350), (325, 639)]  # left, middle
LEGEND_ROW0 = [241, 240, 536, 536, 826]
XTITLE_DROP = [45, 45, 45, 45, 47]

FONT = "Liberation Sans, Arial, Helvetica, sans-serif"
GRID_COLOR = "#b9b9b9"
ENV_COLOR = "#8c8c8c"
ENV_DASH = ["2px,2px", "7px,3px", "7px,3px,2px,3px"]

HYST = [A_HYST, B_HYST, C_HYST, D_HYST, E_HYST]
ENVS = [(A_ENV1, A_ENV2, A_ENV3), (B_ENV1, B_ENV2, B_ENV3), (C_ENV1, C_ENV2, C_ENV3),
        (D_ENV1, D_ENV2, D_ENV3), (E_ENV1, E_ENV2, E_ENV3)]


def px_x(px):
    return px / W


def px_y(py):
    return 1 - py / H


def half_cycle_path(halves):
    """Chain the half-cycles: each segment starts at the previous reversal."""
    xs, ys = [], []
    start = (0.0, 0.0)
    for half in halves:
        pts = [start] + list(half)
        xs += [p[0] for p in pts] + [None]
        ys += [p[1] for p in pts] + [None]
        start = half[-1]
    return xs, ys


fig = go.Figure()
shapes, annotations = [], []

for i, (halves, envs, box, lab_pos, row0, drop, label) in enumerate(
        zip(HYST, ENVS, PANEL_BOX, LABEL_POS, LEGEND_ROW0, XTITLE_DROP, PANEL_LABELS), start=1):
    sfx = "" if i == 1 else str(i)
    xa, ya = "x" + sfx, "y" + sfx
    left, top, right, bottom = box
    xdom = [px_x(left), px_x(right)]
    ydom = [max(0.0, px_y(bottom)), px_y(top)]
    x0_px = (left + right) / 2
    y0_px = (top + bottom) / 2

    hx, hy = half_cycle_path(halves)
    fig.add_trace(go.Scatter(
        x=hx, y=hy, mode="lines", name=LEGEND_LABELS[0], showlegend=False,
        connectgaps=False, hoverinfo="skip",
        line=dict(color="black", width=1, shape="spline", smoothing=0.85),
        xaxis=xa, yaxis=ya))
    for env, dash, name in zip(envs, ENV_DASH, LEGEND_LABELS[1:]):
        fig.add_trace(go.Scatter(
            x=[p[0] for p in env], y=[p[1] for p in env], mode="lines", name=name,
            showlegend=False, hoverinfo="skip",
            line=dict(color=ENV_COLOR, width=1, dash=dash, shape="spline", smoothing=0.6),
            xaxis=xa, yaxis=ya))

    axis_common = dict(
        showline=True, linecolor="black", linewidth=1,
        ticks="outside", ticklen=3, tickwidth=1, tickcolor="black",
        tickfont=dict(family=FONT, size=9.5, color="black"),
        showgrid=True, gridcolor=GRID_COLOR, gridwidth=1,
        zeroline=False, anchor="free", tickangle=0, fixedrange=True,
    )
    fig.layout["xaxis" + sfx] = dict(
        axis_common, domain=xdom, range=[-130, 130], position=(ydom[0] + ydom[1]) / 2,
        griddash="5px,7px",
        tickmode="array", tickvals=X_TICKS,
        ticktext=["<b>%s</b>" % t for t in X_TICK_LABELS], side="bottom")
    fig.layout["yaxis" + sfx] = dict(
        axis_common, domain=ydom, range=[-40, 40], position=(xdom[0] + xdom[1]) / 2,
        griddash="9px,5px",
        tickmode="array", tickvals=Y_TICKS,
        ticktext=["<b>%s</b>" % t for t in Y_TICK_LABELS], side="left")

    # panel letter
    annotations.append(dict(
        x=px_x(lab_pos[0]), y=px_y(lab_pos[1]), xref="paper", yref="paper",
        text=label, showarrow=False, xanchor="left", yanchor="middle",
        font=dict(family=FONT, size=33, color="black")))
    # axis titles
    annotations.append(dict(
        x=px_x(x0_px - 30), y=px_y(top + 37), xref="paper", yref="paper",
        text="<b>%s</b>" % Y_TITLE, textangle=-90, showarrow=False,
        xanchor="center", yanchor="middle",
        font=dict(family=FONT, size=11, color="black")))
    annotations.append(dict(
        x=px_x(right - 2), y=px_y(y0_px + drop), xref="paper", yref="paper",
        text="<b>%s</b>" % X_TITLE, showarrow=False, xanchor="right", yanchor="middle",
        font=dict(family=FONT, size=11.5, color="black")))

    # legend block
    text_left = right - 74
    for k, name in enumerate(LEGEND_LABELS):
        row_y = row0 + 13 * k
        if k == 0:
            ln = dict(color="black", width=1.5)
        else:
            ln = dict(color=ENV_COLOR, width=1, dash=ENV_DASH[k - 1])
        shapes.append(dict(
            type="line", xref="paper", yref="paper",
            x0=px_x(text_left - 16), x1=px_x(text_left - 2),
            y0=px_y(row_y), y1=px_y(row_y), line=ln))
        annotations.append(dict(
            x=px_x(text_left), y=px_y(row_y), xref="paper", yref="paper",
            text="<b>%s</b>" % name, showarrow=False, xanchor="left", yanchor="middle",
            font=dict(family=FONT, size=9, color="black")))

fig.update_layout(
    width=W, height=H, autosize=False,
    margin=dict(l=0, r=0, t=0, b=0),
    paper_bgcolor="white", plot_bgcolor="white",
    showlegend=False, shapes=shapes, annotations=annotations,
)

fig.write_html("out.html")
